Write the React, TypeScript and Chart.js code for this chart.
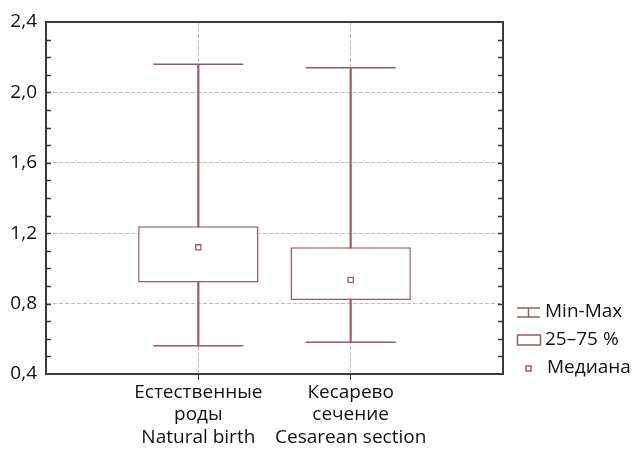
import React, { useEffect, useRef } from "react";
import { Chart, registerables } from "chart.js";

Chart.register(...registerables);

const xLabels: string[][] = [
  [],
  ["Естественные", "роды", "Natural birth"],
  ["Кесарево", "сечение", "Cesarean section"],
  [],
];
const minValues = [null, 0.56, 0.58, null];
const maxValues = [null, 2.16, 2.14, null];
const q1Values = [null, 0.92, 0.82, null];
const q3Values = [null, 1.24, 1.12, null];
const medianValues = [null, 1.12, 0.935, null];
const legendLabels = ["Min-Max", "25–75 %", "Медиана"];

const Y_MIN = 0.4;
const Y_MAX = 2.4;
const Y_STEP = 0.1;

const BOX_COLOR = "#9a5a60";
const AXIS_COLOR = "#3a3a3a";
const GRID_COLOR = "#bdbdbd";
const TEXT_COLOR = "#111111";
const FONT = "'Open Sans', 'Noto Sans', sans-serif";

const framePlugin = {
  id: "frameAndInnerTicks",
  afterDraw(chart: any) {
    const { ctx, chartArea } = chart;
    const y = chart.scales.y;
    const { left, right, top, bottom } = chartArea;
    ctx.save();
    ctx.strokeStyle = AXIS_COLOR;
    ctx.lineWidth = 2;
    ctx.beginPath();
    ctx.moveTo(left - 1, top);
    ctx.lineTo(right, top);
    ctx.lineTo(right, bottom + 1);
    ctx.stroke();
    ctx.lineWidth = 1.5;
    y.ticks.forEach((t: any) => {
      const v = t.value;
      if (Math.abs(v - Y_MIN) < 1e-6 || Math.abs(v - Y_MAX) < 1e-6) return;
      const py = Math.round(y.getPixelForValue(v)) + 0.5;
      ctx.beginPath();
      ctx.moveTo(left, py);
      ctx.lineTo(left + 5, py);
      ctx.moveTo(right - 5, py);
      ctx.lineTo(right, py);
      ctx.stroke();
    });
    ctx.restore();
  },
};

const legendPlugin = {
  id: "boxLegend",
  afterDraw(chart: any) {
    const { ctx, chartArea } = chart;
    const x0 = chartArea.right + 14;
    const iconW = 23;
    const textX = chartArea.right + 42;
    const rows = [chartArea.bottom - 62, chartArea.bottom - 34, chartArea.bottom - 6];
    ctx.save();
    ctx.strokeStyle = BOX_COLOR;
    ctx.lineWidth = 1.5;
    // Min-Max icon
    let cy = rows[0];
    ctx.beginPath();
    ctx.moveTo(x0, cy - 4);
    ctx.lineTo(x0 + iconW, cy - 4);
    ctx.moveTo(x0, cy + 5);
    ctx.lineTo(x0 + iconW, cy + 5);
    ctx.moveTo(x0 + iconW / 2, cy - 4);
    ctx.lineTo(x0 + iconW / 2, cy + 5);
    ctx.stroke();
    // box icon
    cy = rows[1];
    ctx.strokeRect(x0 + 0.5, cy - 5, iconW, 10);
    // median icon
    cy = rows[2];
    ctx.fillStyle = "#fff";
    ctx.fillRect(x0 + iconW / 2 - 2.5, cy - 2, 5, 5);
    ctx.strokeRect(x0 + iconW / 2 - 2.5, cy - 2, 5, 5);
    ctx.fillStyle = TEXT_COLOR;
    ctx.font = `19px ${FONT}`;
    ctx.textBaseline = "middle";
    ctx.textAlign = "left";
    ctx.fillText(legendLabels[0], textX, rows[0]);
    ctx.fillText(legendLabels[1], textX, rows[1]);
    ctx.fillText(legendLabels[2], textX + 2, rows[2]);
    ctx.restore();
  },
};

const isMajor = (v: number) => Math.round(v * 10) % 4 === 0;

export default function App() {
  const ref = useRef<HTMLCanvasElement | null>(null);
  useEffect(() => {
    if (!ref.current) return;
    const chart = new Chart(ref.current, {
      type: "bar",
      data: {
        labels: xLabels as any,
        datasets: [
          {
            type: "line",
            label: "Медиана",
            data: medianValues as any,
            showLine: false,
            pointStyle: "rect",
            pointRadius: 3.6,
            pointBorderWidth: 1.3,
            pointBackgroundColor: "#fff",
            pointBorderColor: BOX_COLOR,
            order: 0,
          } as any,
          {
            type: "bar",
            label: "25–75 %",
            data: q1Values.map((q, i) => (q == null ? null : [q, q3Values[i]])) as any,
            backgroundColor: "#fff",
            borderColor: BOX_COLOR,
            borderWidth: 1.5,
            borderSkipped: false,
            grouped: false,
            barPercentage: 1,
            categoryPercentage: 0.79,
            order: 1,
          } as any,
          {
            type: "line",
            label: "Max",
            data: maxValues as any,
            showLine: false,
            pointStyle: "line",
            pointRadius: 45,
            pointBorderWidth: 1.5,
            pointBorderColor: BOX_COLOR,
            order: 2,
          } as any,
          {
            type: "line",
            label: "Min",
            data: minValues as any,
            showLine: false,
            pointStyle: "line",
            pointRadius: 45,
            pointBorderWidth: 1.5,
            pointBorderColor: BOX_COLOR,
            order: 2,
          } as any,
          {
            type: "bar",
            label: "Min-Max",
            data: minValues.map((m, i) => (m == null ? null : [m, maxValues[i]])) as any,
            backgroundColor: BOX_COLOR,
            borderWidth: 0,
            barThickness: 1.5,
            grouped: false,
            order: 3,
          } as any,
        ],
      },
      options: {
        responsive: false,
        animation: false,
        devicePixelRatio: 1,
        layout: { autoPadding: false, padding: { top: 22, right: 130, left: 0, bottom: 0 } },
        plugins: {
          legend: { display: false },
          tooltip: { enabled: false },
        },
        scales: {
          x: {
            type: "category",
            offset: false,
            grid: {
              offset: false,
              color: (c: any) => (c.index === 1 || c.index === 2 ? GRID_COLOR : "transparent"),
              lineWidth: 1,
              drawTicks: true,
              tickLength: 6,
              tickWidth: 1,
              tickColor: (c: any) => (c.index === 1 || c.index === 2 ? AXIS_COLOR : "transparent"),
            },
            border: { display: true, color: AXIS_COLOR, width: 2, dash: [4, 2] },
            ticks: {
              color: TEXT_COLOR,
              font: { family: FONT, size: 19, lineHeight: 1.16 },
              padding: 2,
              autoSkip: false,
              maxRotation: 0,
            },
            afterFit: (s: any) => {
              s.height = 75;
            },
          },
          y: {
            type: "linear",
            min: Y_MIN,
            max: Y_MAX,
            grid: {
              color: (c: any) => {
                const v = c.tick ? c.tick.value : 0;
                if (Math.abs(v - Y_MIN) < 1e-6 || Math.abs(v - Y_MAX) < 1e-6) return "transparent";
                return isMajor(v) ? GRID_COLOR : "transparent";
              },
              lineWidth: 1,
              drawTicks: false,
            },
            border: { display: true, color: AXIS_COLOR, width: 2, dash: [4, 2] },
            ticks: {
              stepSize: Y_STEP,
              autoSkip: false,
              color: TEXT_COLOR,
              font: { family: FONT, size: 19 },
              padding: 9,
              callback: (v: any) => (isMajor(Number(v)) ? Number(v).toFixed(1).replace(".", ",") : ""),
            },
            afterFit: (s: any) => {
              s.width = 46;
            },
          },
        },
      },
      plugins: [framePlugin, legendPlugin],
    });
    return () => chart.destroy();
  }, []);
  return (
    <div style={{ position: "fixed", left: 0, top: 0, width: 633, height: 449, background: "#fff" }}>
      <canvas ref={ref} width={633} height={449} style={{ width: 633, height: 449, display: "block" }} />
    </div>
  );
}
